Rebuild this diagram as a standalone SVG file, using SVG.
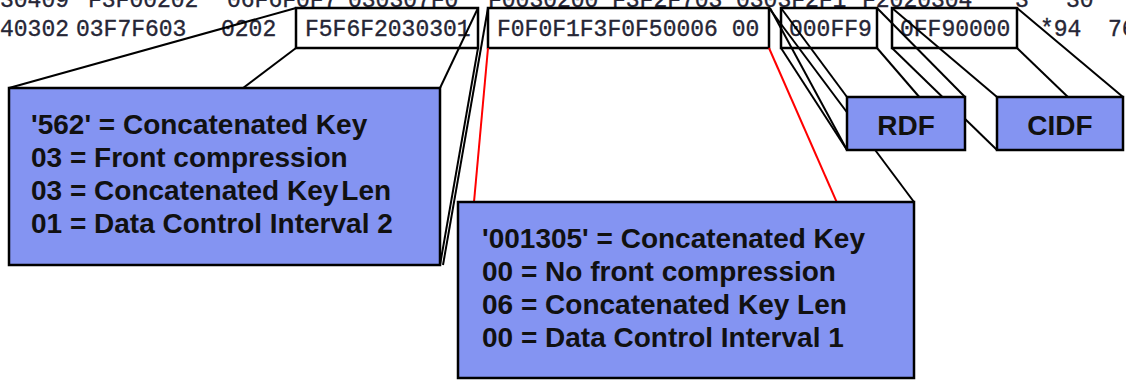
<svg xmlns="http://www.w3.org/2000/svg" width="1126" height="380" viewBox="0 0 1126 380">
  <style>
    .dump { font-family: "Liberation Mono", "Courier New", monospace; font-size: 23px; fill: #262636; stroke: #262636; stroke-width: 0.35; }
    .src { fill: none; stroke: #000; stroke-width: 2.5; }
    .callout { fill: #8494f2; stroke: #000; stroke-width: 2.5; }
    .lbl { font-family: "Liberation Sans", Arial, sans-serif; font-size: 28px; font-weight: bold; fill: #111; }
    .ln { stroke: #000; stroke-width: 2; fill: none; }
    .ln-red { stroke: #ff0000; stroke-width: 2; fill: none; }
  </style>

  <!-- hex dump rows -->
  <g id="dump">
    <text class="dump" y="7">
      <tspan x="0">30409</tspan><tspan x="88">F3F00202</tspan><tspan x="227">06F6F0F7</tspan><tspan x="348">030307F0</tspan><tspan x="488">F0030200</tspan><tspan x="612">F3F2F703</tspan><tspan x="736">0303F2F1</tspan><tspan x="862">F2020304</tspan><tspan x="1015">3</tspan><tspan x="1066">30</tspan>
    </text>
    <text class="dump" y="36">
      <tspan x="0">40302</tspan><tspan x="76">03F7F603</tspan><tspan x="221">0202</tspan><tspan x="1040">*94</tspan><tspan x="1108">76</tspan>
    </text>
  </g>

  <!-- highlighted fields in the dump -->
  <g id="field-key1">
    <rect class="src" x="296" y="8" width="182" height="40"/>
    <text class="dump" x="305" y="36">F5F6F2030301</text>
  </g>
  <g id="field-key2">
    <rect class="src" x="488" y="8" width="281" height="40"/>
    <text class="dump" x="497" y="36" xml:space="preserve">F0F0F1F3F0F50006 00</text>
  </g>
  <g id="field-rdf">
    <rect class="src" x="781" y="8" width="96" height="40"/>
    <text class="dump" x="789" y="36">000FF9</text>
  </g>
  <g id="field-cidf">
    <rect class="src" x="892" y="8" width="125" height="40"/>
    <text class="dump" x="900" y="36">0FF90000</text>
  </g>

  <!-- zoom lines from each field to its callout -->
  <g id="connectors">
    <line class="ln" x1="296" y1="8" x2="9" y2="88"/>
    <line class="ln" x1="296" y1="48" x2="9" y2="265"/>
    <line class="ln" x1="478" y1="8" x2="440" y2="88"/>
    <line class="ln" x1="478" y1="48" x2="440" y2="265"/>
    <line class="ln" x1="488" y1="8" x2="443" y2="265"/>

    <line class="ln" x1="769" y1="8" x2="914" y2="202"/>
    <line class="ln-red" x1="488" y1="48" x2="458" y2="378"/>
    <line class="ln-red" x1="769" y1="48" x2="914" y2="378"/>

    <line class="ln" x1="770" y1="8" x2="847" y2="150"/>
    <line class="ln" x1="781" y1="8" x2="847" y2="97"/>
    <line class="ln" x1="781" y1="48" x2="847" y2="150"/>
    <line class="ln" x1="877" y1="8" x2="965" y2="97"/>
    <line class="ln" x1="877" y1="48" x2="965" y2="150"/>

    <line class="ln" x1="892" y1="8" x2="997" y2="97"/>
    <line class="ln" x1="892" y1="48" x2="997" y2="150"/>
    <line class="ln" x1="1017" y1="8" x2="1123" y2="97"/>
    <line class="ln" x1="1017" y1="48" x2="1123" y2="150"/>
  </g>

  <!-- callout boxes -->
  <g id="callout-key1">
    <rect class="callout" x="9" y="88" width="431" height="177"/>
    <text class="lbl" x="31" y="134">'562' = Concatenated Key</text>
    <text class="lbl" x="31" y="167">03 = Front compression</text>
    <text class="lbl" x="31" y="200">03 = Concatenated Key<tspan dx="3">Len</tspan></text>
    <text class="lbl" x="31" y="233">01 = Data Control Interval 2</text>
  </g>
  <g id="callout-rdf">
    <rect class="callout" x="847" y="97" width="118" height="53"/>
    <text class="lbl" x="906" y="135" text-anchor="middle">RDF</text>
  </g>
  <g id="callout-cidf">
    <rect class="callout" x="997" y="97" width="126" height="53"/>
    <text class="lbl" x="1060" y="135" text-anchor="middle">CIDF</text>
  </g>
  <g id="callout-key2">
    <rect class="callout" x="458" y="202" width="456" height="176"/>
    <text class="lbl" x="482" y="248">'001305' = Concatenated Key</text>
    <text class="lbl" x="482" y="281">00 = No front compression</text>
    <text class="lbl" x="482" y="314">06 = Concatenated Key Len</text>
    <text class="lbl" x="482" y="347">00 = Data Control Interval 1</text>
  </g>
</svg>
